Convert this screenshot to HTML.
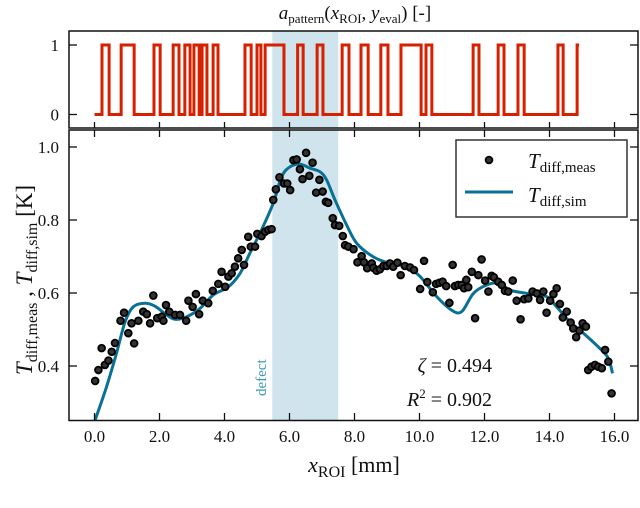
<!DOCTYPE html>
<html><head><meta charset="utf-8"><style>
body{margin:0;background:#fff;}
svg text{font-family:"Liberation Serif","DejaVu Serif",serif;fill:#111;}
</style></head><body>
<svg id="chart" width="640" height="503" viewBox="0 0 640 503" xmlns="http://www.w3.org/2000/svg">
<g id="topPanel"></g>
<g id="botPanel"></g>
</svg>
<script>
const patternEdges=[0.23,0.45,0.82,1.22,1.83,2.02,2.42,2.60,2.78,2.94,3.06,3.22,3.31,3.46,3.65,3.80,4.63,4.82,5.00,5.12,5.25,5.83,6.25,6.42,6.85,7.03,7.62,7.83,8.20,8.42,8.81,9.03,9.43,10.05,10.20,10.38,11.65,11.83,12.42,12.60,13.03,13.22,14.26,14.42,14.85];
const patternStart=0.0, patternEnd=14.91;
const measX=[0.02,0.12,0.22,0.32,0.43,0.53,0.63,0.80,0.91,1.04,1.14,1.22,1.35,1.50,1.61,1.71,1.81,1.93,2.07,2.12,2.20,2.30,2.48,2.63,2.82,2.89,3.02,3.12,3.22,3.33,3.50,3.64,3.81,3.91,4.02,4.12,4.22,4.32,4.42,4.53,4.60,4.73,4.81,4.94,5.01,5.14,5.25,5.35,5.45,5.50,5.58,5.69,5.83,5.93,6.02,6.12,6.22,6.32,6.40,6.51,6.61,6.71,6.82,6.92,7.02,7.12,7.19,7.33,7.40,7.53,7.64,7.71,7.81,7.97,8.09,8.22,8.29,8.39,8.53,8.58,8.68,8.78,8.89,8.99,9.09,9.19,9.32,9.42,9.55,9.71,9.83,10.02,10.14,10.24,10.41,10.51,10.61,10.71,10.82,10.92,11.02,11.09,11.19,11.30,11.37,11.44,11.50,11.61,11.71,11.81,11.91,12.02,12.12,12.22,12.29,12.42,12.53,12.63,12.73,12.87,12.99,13.11,13.22,13.35,13.48,13.61,13.71,13.81,13.91,14.02,14.12,14.22,14.32,14.41,14.53,14.65,14.73,14.82,14.92,15.02,15.12,15.19,15.29,15.40,15.50,15.61,15.71,15.81,15.91];
const measY=[0.359,0.389,0.449,0.403,0.415,0.439,0.463,0.524,0.546,0.490,0.517,0.462,0.524,0.549,0.542,0.517,0.593,0.531,0.535,0.524,0.567,0.549,0.540,0.540,0.524,0.579,0.562,0.597,0.542,0.579,0.572,0.606,0.625,0.658,0.617,0.645,0.654,0.672,0.695,0.718,0.677,0.754,0.727,0.727,0.762,0.756,0.768,0.773,0.775,0.855,0.884,0.917,0.900,0.900,0.882,0.964,0.966,0.939,0.912,0.984,0.921,0.957,0.875,0.910,0.878,0.850,0.847,0.805,0.786,0.784,0.756,0.731,0.727,0.720,0.684,0.701,0.684,0.668,0.681,0.669,0.661,0.665,0.674,0.674,0.681,0.672,0.683,0.649,0.674,0.670,0.663,0.611,0.688,0.630,0.602,0.625,0.628,0.631,0.619,0.573,0.677,0.619,0.622,0.622,0.613,0.636,0.616,0.658,0.531,0.649,0.692,0.634,0.604,0.647,0.643,0.631,0.622,0.606,0.604,0.634,0.579,0.528,0.583,0.585,0.604,0.599,0.581,0.604,0.546,0.579,0.597,0.613,0.570,0.533,0.549,0.519,0.503,0.479,0.497,0.517,0.508,0.389,0.398,0.403,0.398,0.394,0.444,0.412,0.325];
const simX=[0.02,0.37,0.68,0.94,1.19,1.55,1.86,2.22,2.48,2.84,3.25,3.66,4.12,4.48,4.78,5.14,5.50,5.76,6.02,6.32,6.63,6.94,7.14,7.40,7.76,8.07,8.58,9.09,9.61,10.02,10.53,10.99,11.30,11.66,12.07,12.48,12.78,13.30,13.91,14.22,14.63,15.04,15.55,15.81,15.94];
const simY=[0.252,0.343,0.436,0.521,0.562,0.572,0.564,0.540,0.528,0.535,0.558,0.595,0.617,0.654,0.709,0.773,0.846,0.919,0.946,0.953,0.942,0.932,0.910,0.855,0.786,0.736,0.699,0.681,0.672,0.645,0.590,0.553,0.549,0.599,0.622,0.627,0.608,0.599,0.590,0.562,0.521,0.490,0.448,0.421,0.380];
const xTicks=[0,2,4,6,8,10,12,14,16];
const yTicks=[0.4,0.6,0.8,1.0];
const patTicks=[0,1];
const defectRange=[5.47,7.50];

const NS="http://www.w3.org/2000/svg";
function mk(p,tag,attrs){const e=document.createElementNS(NS,tag);for(const k in attrs)e.setAttribute(k,attrs[k]);p.appendChild(e);return e;}
const L=69,R=638;
const X=v=>94.5+v*32.5;
const Y=v=>366-(v-0.4)*365;
const PY=v=>114.5-v*69.5;
const topG=document.getElementById('topPanel'), botG=document.getElementById('botPanel');

let sh=mk(topG,'rect',{x:X(defectRange[0]),y:31,width:X(defectRange[1])-X(defectRange[0]),height:97,fill:'#cfe4ec'});


let pts=[[X(patternStart),PY(0)]];let lvl=0;
patternEdges.forEach(e=>{pts.push([X(e),PY(lvl)]);lvl=1-lvl;pts.push([X(e),PY(lvl)]);});
pts.push([X(patternEnd),PY(lvl)]);
let pl=mk(topG,'polyline',{points:pts.map(p=>p.join(',')).join(' '),fill:'none',stroke:'#d62000','stroke-width':3});


mk(topG,'rect',{x:L,y:31,width:R-L,height:97,fill:'none',stroke:'#111','stroke-width':1.5});
patTicks.forEach(t=>{mk(topG,'line',{x1:L,x2:L+8,y1:PY(t),y2:PY(t),stroke:'#111','stroke-width':1.3});mk(topG,'line',{x1:R,x2:R-8,y1:PY(t),y2:PY(t),stroke:'#111','stroke-width':1.3});
 const tx=mk(topG,'text',{x:L-10,y:PY(t)+6,'text-anchor':'end','font-size':17});tx.textContent=t;
 
 });
xTicks.forEach(t=>{mk(topG,'line',{x1:X(t),x2:X(t),y1:128,y2:122,stroke:'#111','stroke-width':1.3});});
let tt=mk(topG,'text',{x:355,y:19,'text-anchor':'middle','font-size':19});
tt.innerHTML='<tspan font-style="italic">a</tspan><tspan font-size="13" dy="4">pattern</tspan><tspan dy="-4">(</tspan><tspan font-style="italic">x</tspan><tspan font-size="13" dy="4">ROI</tspan><tspan dy="-4">, </tspan><tspan font-style="italic">y</tspan><tspan font-size="13" dy="4">eval</tspan><tspan dy="-4">) [-]</tspan>';



sh=mk(botG,'rect',{x:X(defectRange[0]),y:130,width:X(defectRange[1])-X(defectRange[0]),height:290.5,fill:'#cfe4ec'});


let dl=mk(botG,'text',{x:0,y:0,'font-size':15,style:'fill:#3a98b8',transform:'translate(266,396) rotate(-90)'});dl.textContent='defect';


const sp=simX.map((x,i)=>[X(x),Y(simY[i])]);
let d='M'+sp[0].join(',');
for(let i=0;i<sp.length-1;i++){const p0=sp[Math.max(0,i-1)],p1=sp[i],p2=sp[i+1],p3=sp[Math.min(sp.length-1,i+2)];
 d+=` C${p1[0]+(p2[0]-p0[0])/6},${p1[1]+(p2[1]-p0[1])/6} ${p2[0]-(p3[0]-p1[0])/6},${p2[1]-(p3[1]-p1[1])/6} ${p2[0]},${p2[1]}`;}
const clip=mk(botG,'clipPath',{id:'cp'});mk(clip,'rect',{x:L,y:130,width:R-L,height:290.5});
let sc=mk(botG,'path',{d:d,fill:'none',stroke:'#0a7196','stroke-width':3,'clip-path':'url(#cp)'});


measX.forEach((x,i)=>{const c=mk(botG,'circle',{cx:X(x),cy:Y(measY[i]),r:3.4,fill:'#333',stroke:'#000','stroke-width':1.8});
 
 });
mk(botG,'rect',{x:L,y:130,width:R-L,height:290.5,fill:'none',stroke:'#111','stroke-width':1.5});
xTicks.forEach(t=>{mk(botG,'line',{x1:X(t),x2:X(t),y1:420.5,y2:413,stroke:'#111','stroke-width':1.3});mk(botG,'line',{x1:X(t),x2:X(t),y1:130,y2:137,stroke:'#111','stroke-width':1.3});
 const tx=mk(botG,'text',{x:X(t),y:442,'text-anchor':'middle','font-size':17});tx.textContent=t.toFixed(1);
 
 });
yTicks.forEach(t=>{mk(botG,'line',{x1:L,x2:L+8,y1:Y(t),y2:Y(t),stroke:'#111','stroke-width':1.3});mk(botG,'line',{x1:R,x2:R-8,y1:Y(t),y2:Y(t),stroke:'#111','stroke-width':1.3});
 const tx=mk(botG,'text',{x:L-10,y:Y(t)+6,'text-anchor':'end','font-size':17});tx.textContent=t.toFixed(1);
 
 });
let xl=mk(botG,'text',{x:354,y:472,'text-anchor':'middle','font-size':22});
xl.innerHTML='<tspan font-style="italic">x</tspan><tspan font-size="16" dy="5">ROI</tspan><tspan dy="-5"> [mm]</tspan>';


let yl=mk(botG,'text',{x:0,y:0,'text-anchor':'middle','font-size':23,transform:'translate(32,280) rotate(-90)'});
yl.innerHTML='<tspan font-style="italic">T</tspan><tspan font-size="16" dy="5">diff,meas</tspan><tspan dy="-5">  ,  </tspan><tspan font-style="italic">T</tspan><tspan font-size="16" dy="5">diff,sim</tspan><tspan dy="-5"> [K]</tspan>';


let a1=mk(botG,'text',{x:492,y:372,'text-anchor':'end','font-size':20});a1.innerHTML='<tspan font-style="italic">ζ</tspan> = 0.494';


let a2=mk(botG,'text',{x:492,y:406,'text-anchor':'end','font-size':20});a2.innerHTML='<tspan font-style="italic">R</tspan><tspan font-size="13" dy="-8">2</tspan><tspan dy="8"> = 0.902</tspan>';


const lg=mk(botG,'g',{});


mk(lg,'rect',{x:456,y:140,width:171,height:77,fill:'#fff',stroke:'#333','stroke-width':1.5});
mk(lg,'circle',{cx:489,cy:160,r:3.4,fill:'#333',stroke:'#000','stroke-width':1.8});
mk(lg,'line',{x1:465,x2:513,y1:192,y2:192,stroke:'#0a7196','stroke-width':3});
let l1=mk(lg,'text',{x:528,y:168,'font-size':21});l1.innerHTML='<tspan font-style="italic">T</tspan><tspan font-size="15" dy="4">diff,meas</tspan>';


let l2=mk(lg,'text',{x:528,y:202,'font-size':21});l2.innerHTML='<tspan font-style="italic">T</tspan><tspan font-size="15" dy="4">diff,sim</tspan>';


</script>
</body></html>
